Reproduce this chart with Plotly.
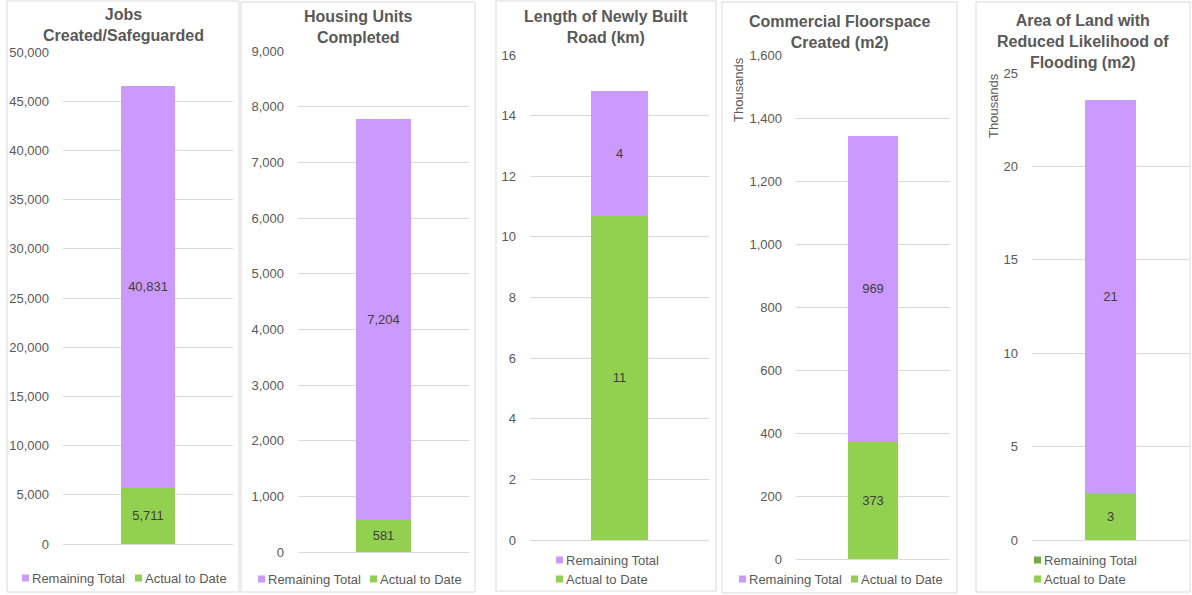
import plotly.graph_objects as go

# ---------------- data ----------------
titles = [
    "Jobs<br>Created/Safeguarded",
    "Housing Units<br>Completed",
    "Length of Newly Built<br>Road (km)",
    "Commercial Floorspace<br>Created (m2)",
    "Area of Land with<br>Reduced Likelihood of<br>Flooding (m2)",
]
category = ["Total"]
series_names = ["Remaining Total", "Actual to Date"]
actual_to_date = [5711, 581, 10.7, 373, 2.52]        # panels 4-5 in thousands
remaining_total = [40831, 7204, 4.1, 969, 21.05]     # panels 4-5 in thousands
axis_max = [50000, 9000, 16, 1600, 25]
axis_step = [5000, 1000, 2, 200, 5]
display_units = ["", "", "", "Thousands", "Thousands"]

# ---------------- style / layout ----------------
W, H = 1192, 595
PURPLE = "#CC99FF"
GREEN = "#92D050"
DARKGREEN = "#70AD47"
GRID = "#D9D9D9"
TXT = "#595959"
LBL = "#404040"
FONT = "Liberation Sans, Arial, sans-serif"

def px(x):
    return x / W

def py(y):
    return 1 - y / H

boxes = [(7, 1, 239, 592), (241, 2, 475, 592), (496, 1, 716, 591), (722, 2, 957, 593), (976, 2, 1190, 592)]
plot_x = [(63, 233), (298, 469), (530, 709), (796, 950), (1032, 1189)]
plot_y = [(52, 544), (51, 552), (55, 540), (55, 559), (73, 540)]   # (top, bottom)
title_top = [4, 6, 6, 11, 10]
units_pos = [None, None, None, (738, 90), (993, 106)]
# legend layout: list of (marker_x, center_y) per entry, in order Remaining, Actual
legend_pos = [
    [(22, 578), (135, 578)],
    [(258, 579), (370, 579)],
    [(556, 560), (556, 579)],
    [(739, 579), (851, 579)],
    [(1034, 560), (1034, 579)],
]
legend_colors = [
    [PURPLE, GREEN], [PURPLE, GREEN], [PURPLE, GREEN], [PURPLE, GREEN], [DARKGREEN, GREEN]
]

fig = go.Figure()
shapes = []
annotations = []

for i in range(5):
    ax = "" if i == 0 else str(i + 1)
    xref, yref = "x" + ax, "y" + ax
    fmt = ",.0f"
    fig.add_trace(go.Bar(
        x=category, y=[actual_to_date[i]], name=series_names[1],
        marker=dict(color=GREEN, line=dict(width=0)), width=0.32,
        texttemplate="%{y:" + fmt + "}", textposition="inside", insidetextanchor="middle",
        textangle=0, textfont=dict(size=13, color=LBL, family=FONT),
        xaxis=xref, yaxis=yref, showlegend=False,
    ))
    fig.add_trace(go.Bar(
        x=category, y=[remaining_total[i]], name=series_names[0],
        marker=dict(color=PURPLE, line=dict(width=0)), width=0.32,
        texttemplate="%{y:" + fmt + "}", textposition="inside", insidetextanchor="middle",
        textangle=0, textfont=dict(size=13, color=LBL, family=FONT),
        xaxis=xref, yaxis=yref, showlegend=False,
    ))

    x0, x1 = plot_x[i]
    yt, yb = plot_y[i]
    fig.update_layout(**{
        "xaxis" + ax: dict(domain=[px(x0), px(x1)], range=[-0.5, 0.5], showticklabels=False,
                           showgrid=False, zeroline=False, showline=False, ticks="",
                           anchor=yref, fixedrange=True, automargin=False),
        "yaxis" + ax: dict(domain=[py(yb), py(yt)], range=[0, axis_max[i]], dtick=axis_step[i],
                           tick0=0, tickformat=",", showgrid=True, gridcolor=GRID, gridwidth=1,
                           zeroline=True, zerolinecolor=GRID, zerolinewidth=1, showline=False,
                           ticks="", ticklabelstandoff=13, anchor=xref, automargin=False,
                           tickfont=dict(size=13, color=TXT, family=FONT), fixedrange=True),
    })

    bx0, by0, bx1, by1 = boxes[i]
    shapes.append(dict(type="rect", xref="paper", yref="paper",
                       x0=px(bx0), x1=px(bx1), y0=py(by1), y1=py(by0),
                       line=dict(color=GRID, width=1), fillcolor="rgba(0,0,0,0)", layer="below"))

    annotations.append(dict(text="<b>" + titles[i].replace("<br>", "</b><br><b>") + "</b>",
                            xref="paper", yref="paper", x=px((bx0 + bx1) / 2), y=py(title_top[i]),
                            xanchor="center", yanchor="top", showarrow=False,
                            font=dict(size=16, color=TXT, family=FONT)))

    if display_units[i]:
        ux, uy = units_pos[i]
        annotations.append(dict(text=display_units[i], xref="paper", yref="paper",
                                x=px(ux), y=py(uy), xanchor="center", yanchor="middle",
                                textangle=-90, showarrow=False,
                                font=dict(size=13, color=TXT, family=FONT)))

    for (mx, cy), col, name in zip(legend_pos[i], legend_colors[i], series_names):
        shapes.append(dict(type="rect", xref="paper", yref="paper",
                           x0=px(mx), x1=px(mx + 7), y0=py(cy + 3.5), y1=py(cy - 3.5),
                           line=dict(width=0), fillcolor=col))
        annotations.append(dict(text=name, xref="paper", yref="paper",
                                x=px(mx + 8), y=py(cy), xanchor="left", yanchor="middle",
                                showarrow=False, font=dict(size=13, color=TXT, family=FONT)))

fig.update_layout(
    width=W, height=H, autosize=False,
    margin=dict(l=0, r=0, t=0, b=0, pad=0, autoexpand=False),
    paper_bgcolor="white", plot_bgcolor="white",
    barmode="stack", showlegend=False,
    font=dict(family=FONT, color=TXT),
    shapes=shapes, annotations=annotations,
)

fig.write_html("out.html")
